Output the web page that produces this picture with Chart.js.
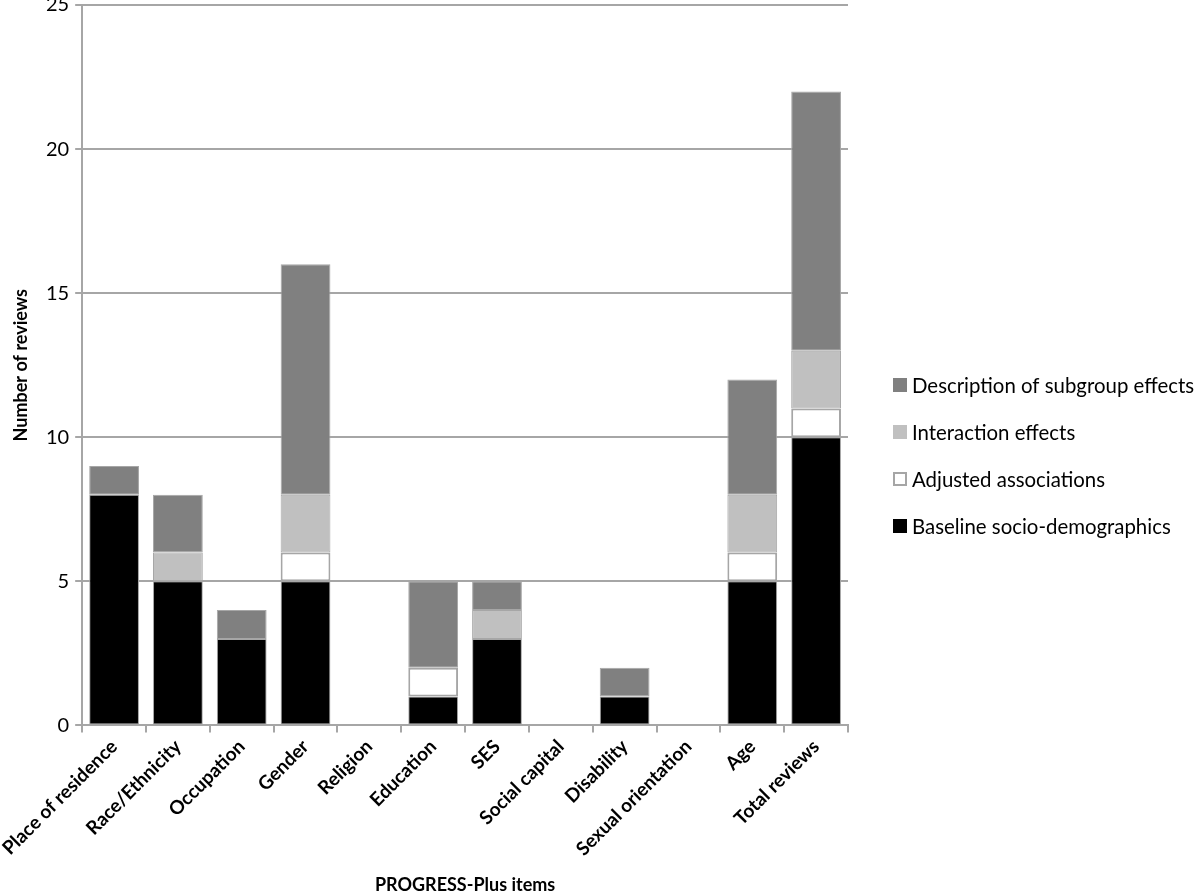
<!DOCTYPE html>
<html>
<head>
    <meta charset="UTF-8">
    <title>PROGRESS-Plus items</title>
    <style>
        body {
            margin: 0;
            background: white;
            overflow: hidden;
        }
        #wrap {
            width: 1200px;
            height: 909px;
            margin-top: -13px;
        }
    </style>
    <script src="https://cdn.jsdelivr.net/npm/chart.js"></script>
</head>
<body>
    <div id="wrap"><canvas id="grafico"></canvas></div>

    <script>
        var categorias = ['Place of residence', 'Race/Ethnicity', 'Occupation', 'Gender', 'Religion',
            'Education', 'SES', 'Social capital', 'Disability', 'Sexual orientation', 'Age', 'Total reviews'];
        var baseline = [8, 5, 3, 5, 0, 1, 3, 0, 1, 0, 5, 10];
        var ajustadas = [0, 0, 0, 1, 0, 1, 0, 0, 0, 0, 1, 1];
        var interacao = [0, 1, 0, 2, 0, 0, 1, 0, 0, 0, 2, 2];
        var descricao = [1, 2, 1, 8, 0, 3, 1, 0, 1, 0, 4, 9];
        var ticksY = [0, 5, 10, 15, 20, 25];

        var cinza = '#a6a6a6';
        var fonte = 'Lato, "Open Sans", sans-serif';

        function serie(label, dados, cor, borda) {
            return {
                label: label,
                data: dados,
                backgroundColor: cor,
                borderColor: cinza,
                borderWidth: borda,
                borderSkipped: false,
                barPercentage: 0.78,
                categoryPercentage: 1
            };
        }

        // legenda desenhada à direita (a legenda padrão fica cortada por causa da largura máxima)
        var legendaLateral = {
            id: 'legendaLateral',
            afterDraw: function (chart) {
                var c = chart.ctx;
                var area = chart.chartArea;
                var x = area.right + 45;
                var y = 385 + 13;
                var passo = 47;
                var ds = chart.data.datasets.slice().reverse();
                c.save();
                c.font = '20.4px ' + fonte;
                c.textBaseline = 'middle';
                c.textAlign = 'left';
                ds.forEach(function (d, i) {
                    var cy = y + i * passo;
                    c.fillStyle = d.backgroundColor;
                    c.fillRect(x, cy - 7, 14, 14);
                    if (d.backgroundColor === '#ffffff') {
                        c.strokeStyle = cinza;
                        c.lineWidth = 2;
                        c.strokeRect(x + 1, cy - 6, 12, 12);
                    }
                    c.fillStyle = '#000';
                    c.fillText(d.label, x + 19, cy + 1);
                });
                c.restore();
            }
        };

        var ctx = document.getElementById('grafico').getContext('2d');
        new Chart(ctx, {
            type: 'bar',
            data: {
                labels: categorias,
                datasets: [
                    serie('Baseline socio-demographics', baseline, '#000000', 1),
                    serie('Adjusted associations', ajustadas, '#ffffff', 2),
                    serie('Interaction effects', interacao, '#c0c0c0', 1),
                    serie('Description of subgroup effects', descricao, '#808080', 1)
                ]
            },
            plugins: [legendaLateral],
            options: {
                responsive: true,
                maintainAspectRatio: false,
                animation: false,
                layout: { padding: { top: 0, right: 352, bottom: 0, left: 0 } },
                plugins: {
                    tooltip: { enabled: false },
                    legend: { display: false }
                },
                scales: {
                    x: {
                        stacked: true,
                        grid: {
                            drawOnChartArea: false,
                            drawTicks: true,
                            tickLength: 7,
                            color: cinza,
                            lineWidth: 2
                        },
                        border: { color: cinza, width: 2 },
                        ticks: {
                            color: '#000',
                            minRotation: 45,
                            maxRotation: 45,
                            font: { family: fonte, size: 19, weight: 'bold' }
                        },
                        title: {
                            display: true,
                            text: 'PROGRESS-Plus items',
                            color: '#000',
                            font: { family: fonte, size: 18, weight: 'bold' },
                            padding: { top: 11, bottom: 0 }
                        }
                    },
                    y: {
                        stacked: true,
                        min: 0,
                        max: 25,
                        afterBuildTicks: function (escala) {
                            escala.ticks = ticksY.map(function (v) { return { value: v }; });
                        },
                        grid: {
                            color: cinza,
                            lineWidth: 2,
                            tickLength: 7
                        },
                        border: { color: cinza, width: 2 },
                        ticks: {
                            color: '#000',
                            padding: 6,
                            font: { family: fonte, size: 20 }
                        },
                        title: {
                            display: true,
                            text: 'Number of reviews',
                            color: '#000',
                            font: { family: fonte, size: 18, weight: 'bold' },
                            padding: { top: 0, bottom: 8 }
                        }
                    }
                }
            }
        });
    </script>
</body>
</html>
